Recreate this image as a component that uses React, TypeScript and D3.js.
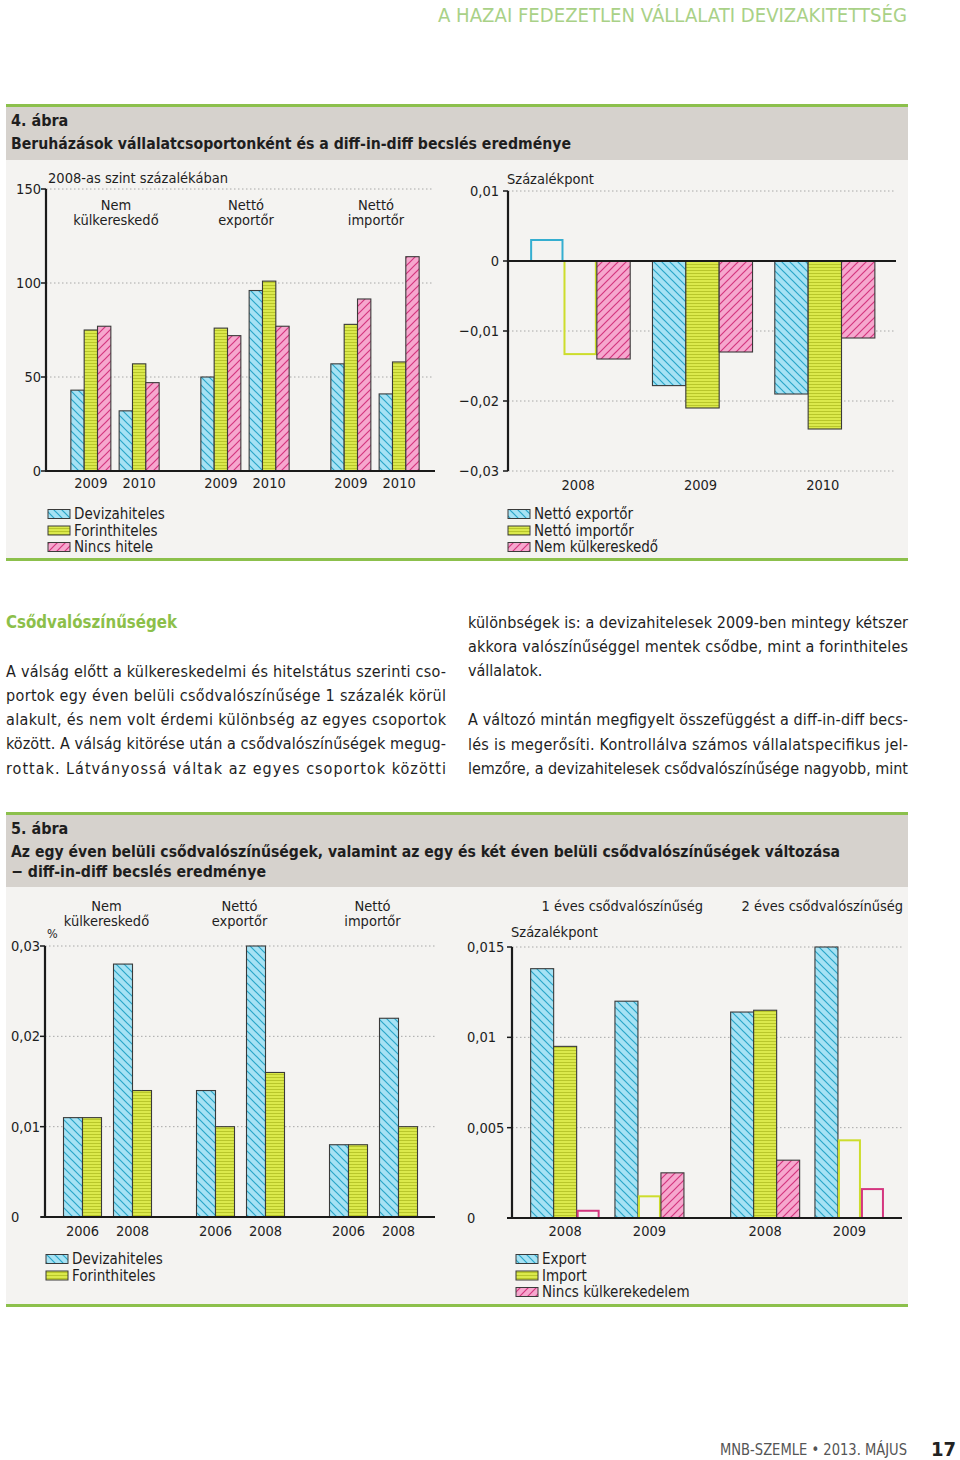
import React from "react";
import * as d3 from "d3";

// ---------- DATA ----------
// 4. ábra – bal oldal (2008-as szint százalékában)
const f4Groups: string[][] = [["Nem", "külkereskedő"], ["Nettó", "exportőr"], ["Nettó", "importőr"]];
const f4Years = ["2009", "2010"];
const f4Series = ["Devizahiteles", "Forinthiteles", "Nincs hitele"];
// order: group1-2009, group1-2010, group2-2009, group2-2010, group3-2009, group3-2010
const f4Deviza = [43, 32, 50, 96, 57, 41];
const f4Forint = [75, 57, 76, 101, 78, 58];
const f4Nincs = [77, 47, 72, 77, 91.5, 114];
const f4Ticks = [0, 50, 100, 150];

// 4. ábra – jobb oldal (százalékpont)
const f4rYears = ["2008", "2009", "2010"];
const f4rSeries = ["Nettó exportőr", "Nettó importőr", "Nem külkereskedő"];
const f4rExport = [0.003, -0.0178, -0.019];
const f4rImport = [-0.0133, -0.021, -0.024];
const f4rNem = [-0.014, -0.013, -0.011];
const f4rExportSig = [false, true, true];
const f4rImportSig = [false, true, true];
const f4rNemSig = [true, true, true];
const f4rTicks = [-0.03, -0.02, -0.01, 0, 0.01];

// 5. ábra – bal oldal (%)
const f5Groups: string[][] = [["Nem", "külkereskedő"], ["Nettó", "exportőr"], ["Nettó", "importőr"]];
const f5Years = ["2006", "2008"];
const f5Series = ["Devizahiteles", "Forinthiteles"];
const f5Deviza = [0.011, 0.028, 0.014, 0.03, 0.008, 0.022];
const f5Forint = [0.011, 0.014, 0.01, 0.016, 0.008, 0.01];
const f5Ticks = [0, 0.01, 0.02, 0.03];

// 5. ábra – jobb oldal (százalékpont)
const f5rGroups = ["1 éves csődvalószínűség", "2 éves csődvalószínűség"];
const f5rYears = ["2008", "2009"];
const f5rSeries = ["Export", "Import", "Nincs külkerekedelem"];
const f5rExport = [0.0138, 0.012, 0.0114, 0.015];
const f5rImport = [0.0095, 0.0012, 0.0115, 0.0043];
const f5rNincs = [0.0004, 0.0025, 0.0032, 0.0016];
const f5rExportSig = [true, true, true, true];
const f5rImportSig = [true, false, true, false];
const f5rNincsSig = [false, true, true, false];
const f5rTicks = [0, 0.005, 0.01, 0.015];

const textLeft = [
  "A válság előtt a külkereskedelmi és hitelstátus szerinti cso-",
  "portok egy éven belüli csődvalószínűsége 1 százalék körül",
  "alakult, és nem volt érdemi különbség az egyes csoportok",
  "között. A válság kitörése után a csődvalószínűségek megug-",
  "rottak. Látványossá váltak az egyes csoportok közötti",
];
const textRight = [
  "különbségek is: a devizahitelesek 2009-ben mintegy kétszer",
  "akkora valószínűséggel mentek csődbe, mint a forinthiteles",
  "vállalatok.",
  "",
  "A változó mintán megfigyelt összefüggést a diff-in-diff becs-",
  "lés is megerősíti. Kontrollálva számos vállalatspecifikus jel-",
  "lemzőre, a devizahitelesek csődvalószínűsége nagyobb, mint",
];
const textRightJustify = [true, true, false, false, true, true, true];

// ---------- STYLE ----------
const FONT = "'DejaVu Sans Condensed', 'DejaVu Sans', sans-serif";
const C = {
  blueFill: "#a6e2f4",
  blueLine: "#2aa6c9",
  yelFill: "#dbe94c",
  yelLine: "#aebd22",
  pinkFill: "#f6a7ce",
  pinkLine: "#d4367f",
  outline: "#3a3a3a",
  green: "#8cc04c",
  band: "#d6d2cd",
  bg: "#f4f3f1",
  grid: "#a8a8a8",
  axis: "#1a1a1a",
  text: "#1e1e1e",
};
const FILLS = ["url(#pBlue)", "url(#pYel)", "url(#pPink)"];
const HOLLOW = ["#35aed0", "#cddd2c", "#d4367f"];
const FS = 14.5;
const FSL = 15;

const loc = d3.formatLocale({ decimal: ",", thousands: " ", grouping: [3], currency: ["", ""], minus: "\u2212" });
const fmt = (v: number) => (v === 0 ? "0" : loc.format("~g")(v));

function Patterns() {
  return (
    <defs>
      <pattern id="pBlue" patternUnits="userSpaceOnUse" width="8" height="8">
        <rect width="8" height="8" fill={C.blueFill} />
        <path d="M-2,-2L10,10M-2,6L2,10M6,-2L10,2" stroke={C.blueLine} strokeWidth="1.2" />
      </pattern>
      <pattern id="pYel" patternUnits="userSpaceOnUse" width="4" height="3">
        <rect width="4" height="3" fill={C.yelFill} />
        <path d="M0,0.5H4" stroke={C.yelLine} strokeWidth="0.8" />
      </pattern>
      <pattern id="pPink" patternUnits="userSpaceOnUse" width="8" height="8">
        <rect width="8" height="8" fill={C.pinkFill} />
        <path d="M-2,10L10,-2M-2,2L2,-2M6,10L10,6" stroke={C.pinkLine} strokeWidth="1.2" />
      </pattern>
    </defs>
  );
}

function Bar({ x, w, y0, y1, s, sig }: { x: number; w: number; y0: number; y1: number; s: number; sig: boolean }) {
  const top = Math.min(y0, y1);
  const h = Math.abs(y1 - y0);
  if (sig)
    return <rect x={x} y={top} width={w} height={h} fill={FILLS[s]} stroke={C.outline} strokeWidth={1.1} />;
  return <rect x={x + 1} y={top} width={w - 2} height={h} fill="none" stroke={HOLLOW[s]} strokeWidth={2} />;
}

function Legend({ x, y, items, idx, dy }: { x: number; y: number; items: string[]; idx: number[]; dy: number }) {
  return (
    <g>
      {items.map((t, i) => (
        <g key={t}>
          <rect x={x} y={y + i * dy - 4.5} width={22} height={9} fill={FILLS[idx[i]]} stroke={C.outline} strokeWidth={1} />
          <text x={x + 26} y={y + i * dy} dominantBaseline="central" fontSize={FSL} fill={C.text}>
            {t}
          </text>
        </g>
      ))}
    </g>
  );
}

function YAxis({ y, ticks, ax, x2, yTop, yBot, labelX, anchor, zero }: any) {
  return (
    <g>
      {ticks.map((t: number) => (
        <g key={t}>
          {t !== zero && (
            <line x1={ax} x2={x2} y1={y(t)} y2={y(t)} stroke={C.grid} strokeWidth={1} strokeDasharray="1.5,2.5" />
          )}
          <line x1={ax - 5} x2={ax} y1={y(t)} y2={y(t)} stroke={C.axis} strokeWidth={1.5} />
          <text x={labelX} y={y(t)} textAnchor={anchor} dominantBaseline="central" fontSize={FS} fill={C.text}>
            {fmt(t)}
          </text>
        </g>
      ))}
      <line x1={ax} x2={ax} y1={yTop} y2={yBot} stroke={C.axis} strokeWidth={2.2} />
    </g>
  );
}

function Fig4Left() {
  const gx = d3.scaleBand<number>().domain([0, 1, 2]).range([50, 440]);
  const yx = d3.scaleBand<string>().domain(f4Years).range([20.85, 109.15]).paddingInner(0.172);
  const sx = d3.scaleBand<number>().domain([0, 1, 2]).range([0, yx.bandwidth()]);
  const y = d3.scaleLinear().domain([0, 150]).range([471, 189]);
  const series = [f4Deviza, f4Forint, f4Nincs];
  return (
    <g>
      <YAxis y={y} ticks={f4Ticks} ax={46} x2={434} yTop={y(150)} yBot={y(0)} labelX={41} anchor="end" zero={0} />
      <text x={48} y={178} dominantBaseline="central" fontSize={FS} fill={C.text} textLength={180} lengthAdjust="spacingAndGlyphs">2008-as szint százalékában</text>
      {f4Groups.map((lines, g) => (
        <g key={g}>
          {lines.map((l, li) => (
            <text key={li} x={(gx(g) as number) + gx.bandwidth() / 2 + 1} y={204.5 + li * 15.5} textAnchor="middle" dominantBaseline="central" fontSize={FS} fill={C.text}>
              {l}
            </text>
          ))}
          {f4Years.map((yr, yi) => {
            const bx = (gx(g) as number) + (yx(yr) as number);
            return (
              <g key={yr}>
                {series.map((arr, s) => (
                  <Bar key={s} x={bx + (sx(s) as number)} w={sx.bandwidth()} y0={y(0)} y1={y(arr[g * 2 + yi])} s={s} sig={true} />
                ))}
                <text x={bx + yx.bandwidth() / 2} y={483} textAnchor="middle" dominantBaseline="central" fontSize={FS} fill={C.text}>
                  {yr}
                </text>
              </g>
            );
          })}
        </g>
      ))}
      <line x1={45} x2={435} y1={y(0)} y2={y(0)} stroke={C.axis} strokeWidth={2.2} />
      <Legend x={48} y={514} items={f4Series} idx={[0, 1, 2]} dy={16.5} />
    </g>
  );
}

function Fig4Right() {
  const x = d3.scaleBand<string>().domain(f4rYears).range([519, 886]).paddingInner(0.182).paddingOuter(0.091);
  const sx = d3.scaleBand<number>().domain([0, 1, 2]).range([0, x.bandwidth()]);
  const y = d3.scaleLinear().domain([-0.03, 0.01]).range([471, 191]);
  const series = [f4rExport, f4rImport, f4rNem];
  const sigs = [f4rExportSig, f4rImportSig, f4rNemSig];
  return (
    <g>
      <YAxis y={y} ticks={f4rTicks} ax={508} x2={896} yTop={y(0.01)} yBot={y(-0.03)} labelX={499} anchor="end" zero={0} />
      <text x={507} y={179} dominantBaseline="central" fontSize={FS} fill={C.text}>Százalékpont</text>
      {f4rYears.map((yr, i) => (
        <g key={yr}>
          {series.map((arr, s) => (
            <Bar key={s} x={(x(yr) as number) + (sx(s) as number)} w={sx.bandwidth()} y0={y(0)} y1={y(arr[i])} s={s} sig={sigs[s][i]} />
          ))}
          <text x={(x(yr) as number) + x.bandwidth() / 2 - 2} y={485} textAnchor="middle" dominantBaseline="central" fontSize={FS} fill={C.text}>
            {yr}
          </text>
        </g>
      ))}
      <line x1={507} x2={896} y1={y(0)} y2={y(0)} stroke={C.axis} strokeWidth={2.2} />
      <Legend x={508} y={514} items={f4rSeries} idx={[0, 1, 2]} dy={16.5} />
    </g>
  );
}

function Fig5Left() {
  const gx = d3.scaleBand<number>().domain([0, 1, 2]).range([41, 440]);
  const yx = d3.scaleBand<string>().domain(f5Years).range([22.5, 110.5]).paddingInner(0.24);
  const sx = d3.scaleBand<number>().domain([0, 1]).range([0, yx.bandwidth()]);
  const y = d3.scaleLinear().domain([0, 0.03]).range([1217, 946]);
  const series = [f5Deviza, f5Forint];
  return (
    <g>
      <YAxis y={y} ticks={f5Ticks} ax={45} x2={436} yTop={y(0.03)} yBot={y(0)} labelX={11} anchor="start" zero={0} />
      <text x={47} y={933} dominantBaseline="central" fontSize={12.5} fill={C.text}>%</text>
      {f5Groups.map((lines, g) => (
        <g key={g}>
          {lines.map((l, li) => (
            <text key={li} x={(gx(g) as number) + gx.bandwidth() / 2 - 1} y={905.5 + li * 15.5} textAnchor="middle" dominantBaseline="central" fontSize={FS} fill={C.text}>
              {l}
            </text>
          ))}
          {f5Years.map((yr, yi) => {
            const bx = (gx(g) as number) + (yx(yr) as number);
            return (
              <g key={yr}>
                {series.map((arr, s) => (
                  <Bar key={s} x={bx + (sx(s) as number)} w={sx.bandwidth()} y0={y(0)} y1={y(arr[g * 2 + yi])} s={s} sig={true} />
                ))}
                <text x={bx + yx.bandwidth() / 2} y={1231} textAnchor="middle" dominantBaseline="central" fontSize={FS} fill={C.text}>
                  {yr}
                </text>
              </g>
            );
          })}
        </g>
      ))}
      <line x1={41} x2={435} y1={y(0)} y2={y(0)} stroke={C.axis} strokeWidth={2.2} />
      <Legend x={46} y={1259} items={f5Series} idx={[0, 1]} dy={16.5} />
    </g>
  );
}

function Fig5Right() {
  const gx = d3.scaleBand<number>().domain([0, 1]).range([507.3, 907.3]);
  const yx = d3.scaleBand<string>().domain(f5rYears).range([23.35, 176.65]).paddingInner(0.1815);
  const sx = d3.scaleBand<number>().domain([0, 1, 2]).range([0, yx.bandwidth()]);
  const y = d3.scaleLinear().domain([0, 0.015]).range([1218, 947]);
  const series = [f5rExport, f5rImport, f5rNincs];
  const sigs = [f5rExportSig, f5rImportSig, f5rNincsSig];
  return (
    <g>
      <YAxis y={y} ticks={f5rTicks} ax={512} x2={903} yTop={y(0.015)} yBot={y(0)} labelX={467} anchor="start" zero={0} />
      <text x={511} y={932} dominantBaseline="central" fontSize={FS} fill={C.text}>Százalékpont</text>
      {f5rGroups.map((label, g) => (
        <g key={g}>
          <text x={(gx(g) as number) + gx.bandwidth() / 2 + 15} y={906} textAnchor="middle" dominantBaseline="central" fontSize={FS} fill={C.text}>
            {label}
          </text>
          {f5rYears.map((yr, yi) => {
            const bx = (gx(g) as number) + (yx(yr) as number);
            return (
              <g key={yr}>
                {series.map((arr, s) => (
                  <Bar key={s} x={bx + (sx(s) as number)} w={sx.bandwidth()} y0={y(0)} y1={y(arr[g * 2 + yi])} s={s} sig={sigs[s][g * 2 + yi]} />
                ))}
                <text x={bx + yx.bandwidth() / 2} y={1231} textAnchor="middle" dominantBaseline="central" fontSize={FS} fill={C.text}>
                  {yr}
                </text>
              </g>
            );
          })}
        </g>
      ))}
      <line x1={507} x2={902} y1={y(0)} y2={y(0)} stroke={C.axis} strokeWidth={2.2} />
      <Legend x={516} y={1259} items={f5rSeries} idx={[0, 1, 2]} dy={16.5} />
    </g>
  );
}

export default function App() {
  return (
    <svg width={960} height={1460} style={{ position: "absolute", left: 0, top: 0, background: "#fff" }} fontFamily={FONT}>
      <Patterns />
      <rect width={960} height={1460} fill="#fff" />
      {/* header */}
      <text x={907} y={15} textAnchor="end" dominantBaseline="central" fontSize={19} fill="#a9d187" textLength={469} lengthAdjust="spacingAndGlyphs">
        A HAZAI FEDEZETLEN VÁLLALATI DEVIZAKITETTSÉG
      </text>

      {/* Figure 4 frame */}
      <rect x={6} y={107} width={902} height={53} fill={C.band} />
      <rect x={6} y={160} width={902} height={398} fill={C.bg} />
      <rect x={6} y={104} width={902} height={3} fill={C.green} />
      <rect x={6} y={558} width={902} height={3} fill={C.green} />
      <text x={11} y={120} dominantBaseline="central" fontSize={16} fontWeight="bold" fill={C.text}>4. ábra</text>
      <text x={11} y={143} dominantBaseline="central" fontSize={16} fontWeight="bold" fill={C.text} textLength={560} lengthAdjust="spacingAndGlyphs">
        Beruházások vállalatcsoportonként és a diff-in-diff becslés eredménye
      </text>
      <Fig4Left />
      <Fig4Right />

      {/* Text */}
      <text x={6} y={622} dominantBaseline="central" fontSize={17} fontWeight="bold" fill="#8cbf4a" textLength={171} lengthAdjust="spacingAndGlyphs">
        Csődvalószínűségek
      </text>
      {textLeft.map((t, i) => (
        <text key={i} x={6} y={671 + i * 24.3} dominantBaseline="central" fontSize={16} fill={C.text} textLength={440} lengthAdjust="spacing">
          {t}
        </text>
      ))}
      {textRight.map((t, i) =>
        t ? (
          <text key={i} x={468} y={622 + i * 24.4} dominantBaseline="central" fontSize={16} fill={C.text} {...(textRightJustify[i] ? { textLength: 440, lengthAdjust: "spacing" } : {})}>
            {t}
          </text>
        ) : null
      )}

      {/* Figure 5 frame */}
      <rect x={6} y={815} width={902} height={72} fill={C.band} />
      <rect x={6} y={887} width={902} height={417} fill={C.bg} />
      <rect x={6} y={812} width={902} height={3} fill={C.green} />
      <rect x={6} y={1304} width={902} height={3} fill={C.green} />
      <text x={11} y={828} dominantBaseline="central" fontSize={16} fontWeight="bold" fill={C.text}>5. ábra</text>
      <text x={11} y={851} dominantBaseline="central" fontSize={16} fontWeight="bold" fill={C.text} textLength={829} lengthAdjust="spacingAndGlyphs">
        Az egy éven belüli csődvalószínűségek, valamint az egy és két éven belüli csődvalószínűségek változása
      </text>
      <text x={11} y={871} dominantBaseline="central" fontSize={16} fontWeight="bold" fill={C.text} textLength={255} lengthAdjust="spacingAndGlyphs">
        − diff-in-diff becslés eredménye
      </text>
      <Fig5Left />
      <Fig5Right />

      {/* footer */}
      <text x={907} y={1450} textAnchor="end" dominantBaseline="central" fontSize={15} fill="#555" textLength={187} lengthAdjust="spacingAndGlyphs">
        MNB-SZEMLE • 2013. MÁJUS
      </text>
      <text x={956} y={1449} textAnchor="end" dominantBaseline="central" fontSize={20} fontWeight="bold" fill="#222">
        17
      </text>
    </svg>
  );
}
